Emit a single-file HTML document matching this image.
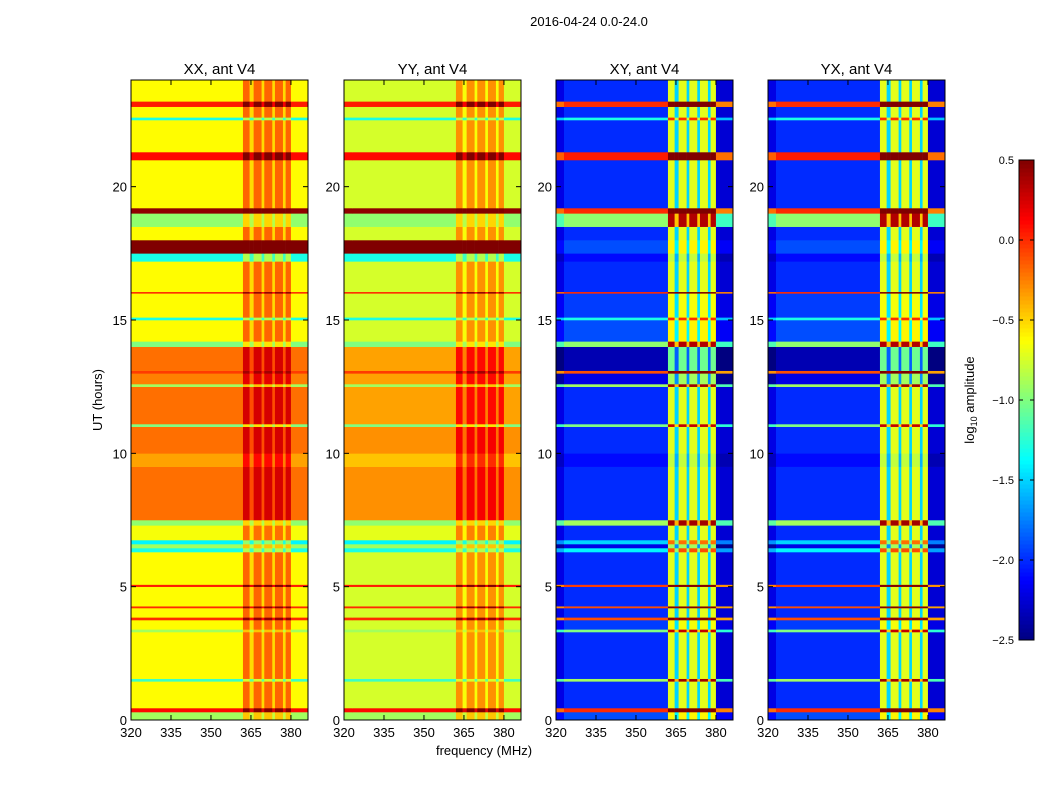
<!DOCTYPE html>
<html><head><meta charset="utf-8"><style>
body{margin:0;background:#fff;}
svg{display:block;font-family:"Liberation Sans","DejaVu Sans",sans-serif;}
</style></head><body>
<svg id="fig" width="1050" height="800" xmlns="http://www.w3.org/2000/svg">
<text x="589" y="26" text-anchor="middle" font-size="13">2016-04-24 0.0-24.0</text>
<text x="484" y="755" text-anchor="middle" font-size="13">frequency (MHz)</text>
<text x="102" y="400" text-anchor="middle" font-size="13" transform="rotate(-90 102 400)">UT (hours)</text>
<text x="974" y="400" text-anchor="middle" font-size="13" transform="rotate(-90 974 400)">log<tspan font-size="9" dy="3">10</tspan><tspan dy="-3"> amplitude</tspan></text>
<g id="panels"></g>
<g id="cbar"></g>
</svg>
<script>
const panelTitles=["XX, ant V4","YY, ant V4","XY, ant V4","YX, ant V4"];
const rowStart=[0,0.3,0.45,1.45,1.55,3.3,3.4,3.75,3.85,4.2,4.27,5.0,5.08,6.3,6.45,6.6,6.75,7.3,7.5,9.5,10.0,11.0,11.1,12.5,12.6,13.0,13.1,14.0,14.2,15.0,15.1,16.0,16.06,17.2,17.5,18.0,18.5,19.0,19.2,21.0,21.3,22.5,22.6,23.0,23.2];
const rowEnd=[0.3,0.45,1.45,1.55,3.3,3.4,3.75,3.85,4.2,4.27,5.0,5.08,6.3,6.45,6.6,6.75,7.3,7.5,9.5,10.0,11.0,11.1,12.5,12.6,13.0,13.1,14.0,14.2,15.0,15.1,16.0,16.06,17.2,17.5,18.0,18.5,19.0,19.2,21.0,21.3,22.5,22.6,23.0,23.2,24];
const levelXX=[-0.9,0.1,-0.62,-1.2,-0.62,-0.9,-0.62,0.0,-0.62,0.0,-0.62,0.05,-0.62,-1.3,-0.9,-1.4,-0.65,-0.95,-0.2,-0.35,-0.2,-1.0,-0.2,-0.9,-0.25,-0.05,-0.2,-1.0,-0.62,-1.3,-0.62,0.0,-0.62,-1.3,0.5,-0.62,-0.95,0.45,-0.62,0.1,-0.62,-1.3,-0.62,0.05,-0.62];
const levelYY=[-0.9,0.1,-0.75,-1.2,-0.75,-0.9,-0.75,0.0,-0.75,0.0,-0.75,0.05,-0.75,-1.3,-0.9,-1.4,-0.7,-0.95,-0.3,-0.45,-0.3,-1.0,-0.35,-0.9,-0.35,-0.05,-0.35,-1.0,-0.75,-1.3,-0.75,0.0,-0.75,-1.3,0.5,-0.75,-0.95,0.45,-0.75,0.1,-0.75,-1.3,-0.75,0.05,-0.75];
const levelXY=[-1.9,0.0,-2.0,-0.9,-2.0,-1.0,-1.95,-0.1,-2.0,-0.1,-2.0,-0.05,-2.0,-1.4,-2.2,-1.5,-2.0,-0.9,-2.0,-2.1,-2.0,-1.0,-2.0,-0.9,-2.2,-0.1,-2.35,-0.95,-1.9,-1.3,-1.95,0.0,-2.0,-2.1,-1.9,-2.0,-0.95,0.0,-2.0,0.05,-2.0,-1.3,-2.0,0.0,-2.0];
const levelYX=levelXY.slice();
const colStart=[320,323,362,364.5,366,369,370,373,374,377,378,380];
const colEnd=[323,362,364.5,366,369,370,373,374,377,378,380,386.4];
const gainAuto=[0,0,0.45,0.1,0.45,0.1,0.45,0.1,0.45,0.1,0.45,0];
const gainCross=[-0.2,0,1.3,0.5,1.3,0.5,1.3,0.5,1.3,0.5,1.3,-0.25];
const yTicks=[0,5,10,15,20];
const xTicks=[320,335,350,365,380];
const cbTicks=[0.5,0.0,-0.5,-1.0,-1.5,-2.0,-2.5];

const NS="http://www.w3.org/2000/svg";
const panelX=[131,344,556,768], PW=177, PT=80, PB=720;
const fMin=320,fMax=386.4,tMin=0,tMax=24,vMin=-2.5,vMax=0.5;
function xs(px,f){return px+(f-fMin)/(fMax-fMin)*PW;}
function ys(t){return PB-(t-tMin)/(tMax-tMin)*(PB-PT);}
function jet(v){let x=(v-vMin)/(vMax-vMin);x=Math.max(0,Math.min(1,x));
 const c=t=>Math.round(255*Math.max(0,Math.min(1,t)));
 const r=1.5-Math.abs(4*x-3),g=1.5-Math.abs(4*x-2),b=1.5-Math.abs(4*x-1);
 return `rgb(${c(r)},${c(g)},${c(b)})`;}
function mk(tag,attrs,parent){const e=document.createElementNS(NS,tag);for(const k in attrs)e.setAttribute(k,attrs[k]);parent.appendChild(e);return e;}
const root=document.getElementById('panels');
const levels=[levelXX,levelYY,levelXY,levelYX];
for(let p=0;p<4;p++){
 const px=panelX[p];
 const g=mk('g',{},root);
 
 
 const gain=p<2?gainAuto:gainCross;
 for(let i=0;i<rowStart.length;i++){
  for(let j=0;j<colStart.length;j++){
   const v=levels[p][i]+gain[j];
   const x0=xs(px,colStart[j]),x1=xs(px,colEnd[j]);
   const y0=ys(rowEnd[i]),y1=ys(rowStart[i]);
   const r=mk('rect',{x:x0,y:y0,width:x1-x0+0.3,height:y1-y0+0.3,fill:jet(v)},g);
   
   
  }
 }
 const fr=mk('rect',{x:px,y:PT,width:PW,height:PB-PT,fill:'none',stroke:'#000','stroke-width':1},g);
 
 
 const tt=mk('text',{x:px+PW/2,y:74,'text-anchor':'middle','font-size':15},g);
 tt.textContent=panelTitles[p];
 
 
 yTicks.forEach(t=>{const y=ys(t);
  mk('line',{x1:px,x2:px+5,y1:y,y2:y,stroke:'#000'},g);
  mk('line',{x1:px+PW,x2:px+PW-5,y1:y,y2:y,stroke:'#000'},g);
  const l=mk('text',{x:px-4,y:y+5,'text-anchor':'end','font-size':13},g);
  l.textContent=t;
  
  });
 xTicks.forEach(f=>{const x=xs(px,f);
  mk('line',{x1:x,x2:x,y1:PB,y2:PB-5,stroke:'#000'},g);
  mk('line',{x1:x,x2:x,y1:PT,y2:PT+5,stroke:'#000'},g);
  const l=mk('text',{x:x,y:PB+17,'text-anchor':'middle','font-size':13},g);
  l.textContent=f;
  
  });
}
const cb=document.getElementById('cbar');
const CX=1019,CW=15,CT=160,CBt=640;
function cy(v){return CBt-(v-vMin)/(vMax-vMin)*(CBt-CT);}
for(let k=0;k<120;k++){const v0=vMin+k*(vMax-vMin)/120,v1=vMin+(k+1)*(vMax-vMin)/120;
 const r=mk('rect',{x:CX,y:cy(v1),width:CW,height:cy(v0)-cy(v1)+0.5,fill:jet((v0+v1)/2)},cb);
 
 }
const cf=mk('rect',{x:CX,y:CT,width:CW,height:CBt-CT,fill:'none',stroke:'#000'},cb);


cbTicks.forEach(v=>{const y=cy(v);
 mk('line',{x1:CX+CW-4,x2:CX+CW,y1:y,y2:y,stroke:'#000'},cb);
 mk('line',{x1:CX,x2:CX+4,y1:y,y2:y,stroke:'#000'},cb);
 const l=mk('text',{x:CX-5,y:y+4,'text-anchor':'end','font-size':11},cb);
 l.textContent=(v<0?'\u2212':'')+Math.abs(v).toFixed(1);
 
 });
</script>
</body></html>
